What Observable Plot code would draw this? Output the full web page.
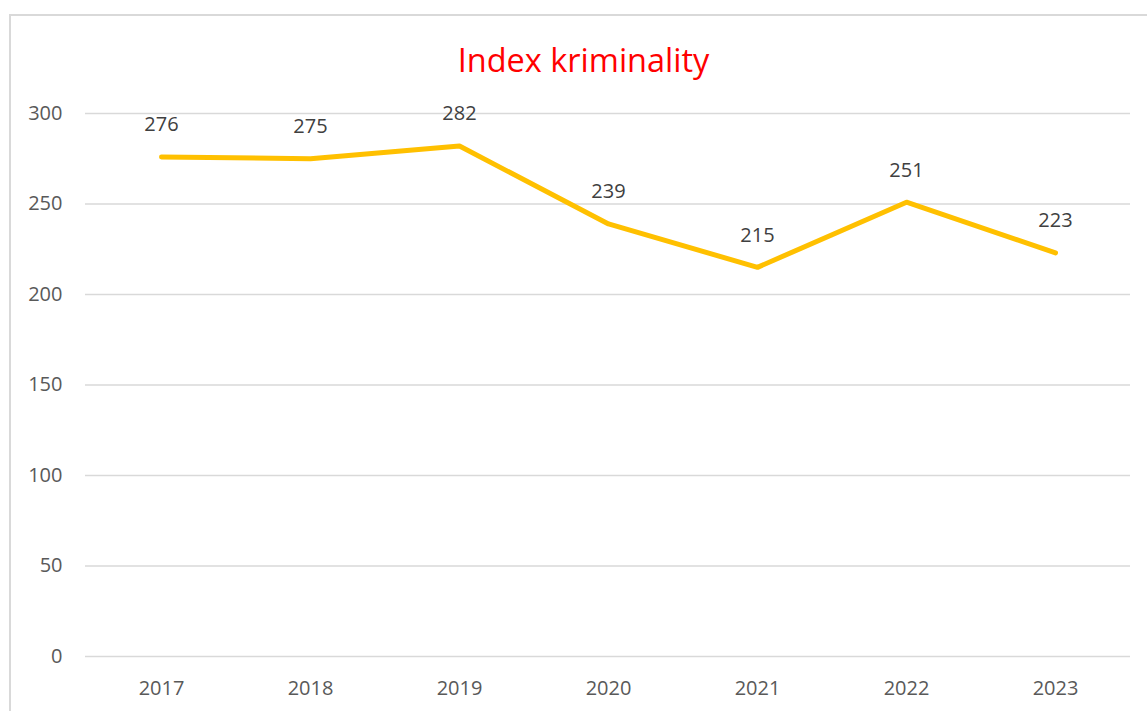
<!DOCTYPE html>
<html>
<head>
<meta charset="utf-8">
<script src="https://cdn.jsdelivr.net/npm/d3@7"></script>
<script src="https://cdn.jsdelivr.net/npm/@observablehq/plot@0.6"></script>
<style>
  html, body { margin: 0; padding: 0; background: #fff; overflow: hidden; }
  #wrap { position: relative; width: 1147px; height: 711px; }
  #frame { position: absolute; left: 9px; top: 14px; width: 1160px; height: 720px;
           border: 2px solid #d9d9d9; box-sizing: border-box; }
  #title { position: absolute; left: 0; width: 1167px; top: 40px; text-align: center;
           font-family: "Open Sans", sans-serif; font-size: 32.5px; color: #ff0000; line-height: 40px; }
  #chart { position: absolute; left: 0; top: 0; }
</style>
</head>
<body>
<div id="wrap">
  <div id="frame"></div>
  <div id="title">Index kriminality</div>
  <div id="chart"></div>
</div>
<script>
const years = ["2017", "2018", "2019", "2020", "2021", "2022", "2023"];
const values = [276, 275, 282, 239, 215, 251, 223];
const yTicks = [0, 50, 100, 150, 200, 250, 300];

const data = years.map((y, i) => ({year: y, value: values[i]}));

const chart = Plot.plot({
  width: 1147,
  height: 711,
  marginLeft: 85,
  marginRight: 17,
  marginTop: 113,
  marginBottom: 55,
  style: {fontFamily: "Open Sans, sans-serif", fontSize: "20px", background: "transparent", overflow: "visible"},
  x: {type: "point", domain: years, padding: 0.5, label: null},
  y: {domain: [0, 300], label: null},
  marks: [
    Plot.ruleY(yTicks, {stroke: "#d9d9d9", strokeWidth: 1.5, strokeOpacity: 1}),
    Plot.axisY(yTicks, {tickSize: 0, tickPadding: 23, fill: "#595959", fontSize: 20, label: null}),
    Plot.axisX({tickSize: 0, tickPadding: 24, fill: "#595959", fontSize: 20, label: null}),
    Plot.line(data, {x: "year", y: "value", stroke: "#ffc000", strokeWidth: 5, strokeLinecap: "round", strokeLinejoin: "round"}),
    Plot.text(data, {x: "year", y: "value", text: d => String(d.value), dy: -32, fill: "#404040", fontSize: 20})
  ]
});
document.getElementById("chart").appendChild(chart);
</script>
</body>
</html>
